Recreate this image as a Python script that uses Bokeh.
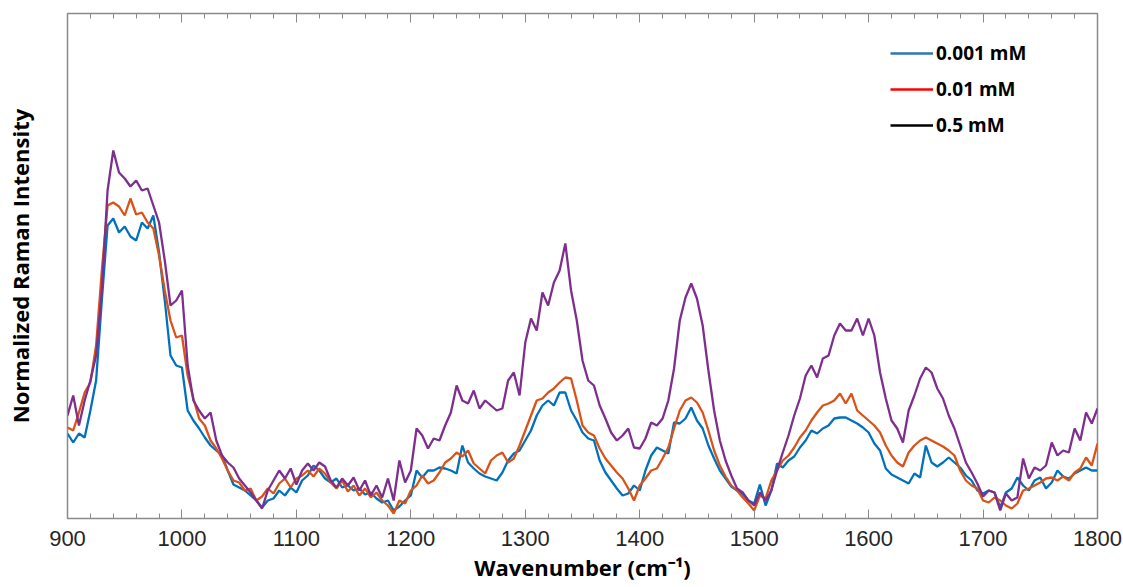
from bokeh.plotting import figure
from bokeh.models import Range1d, LinearAxis, Legend, LegendItem, FixedTicker
from bokeh.embed import file_html
from bokeh.resources import INLINE

wavenumber = list(range(900, 1805, 5))

conc_0001 = [
    0.85, 0.76, 0.85, 0.81, 1.08, 1.38, 2.18, 2.93, 3.00, 2.86,
    2.92, 2.82, 2.78, 2.96, 2.90, 3.03, 2.66, 2.18, 1.63, 1.53,
    1.51, 1.08, 0.98, 0.90, 0.81, 0.73, 0.68, 0.63, 0.48, 0.34,
    0.31, 0.28, 0.23, 0.18, 0.11, 0.18, 0.20, 0.28, 0.23, 0.31,
    0.26, 0.38, 0.43, 0.53, 0.48, 0.40, 0.36, 0.40, 0.31, 0.33,
    0.28, 0.30, 0.24, 0.26, 0.20, 0.16, 0.18, 0.08, 0.12, 0.18,
    0.23, 0.48, 0.41, 0.48, 0.48, 0.51, 0.50, 0.48, 0.45, 0.73,
    0.56, 0.50, 0.45, 0.42, 0.40, 0.38, 0.46, 0.58, 0.65, 0.68,
    0.78, 0.88, 1.03, 1.13, 1.18, 1.13, 1.26, 1.26, 1.08, 0.98,
    0.86, 0.80, 0.78, 0.58, 0.46, 0.38, 0.30, 0.23, 0.25, 0.33,
    0.28, 0.48, 0.63, 0.71, 0.68, 0.65, 0.96, 0.95, 1.00, 1.11,
    0.98, 0.90, 0.73, 0.60, 0.48, 0.40, 0.32, 0.28, 0.24, 0.18,
    0.15, 0.34, 0.13, 0.28, 0.55, 0.51, 0.58, 0.62, 0.71, 0.78,
    0.88, 0.85, 0.90, 0.93, 1.00, 1.01, 1.01, 0.98, 0.95, 0.91,
    0.86, 0.75, 0.68, 0.50, 0.44, 0.41, 0.38, 0.35, 0.45, 0.41,
    0.73, 0.56, 0.52, 0.56, 0.61, 0.56, 0.51, 0.43, 0.38, 0.28,
    0.25, 0.28, 0.26, 0.11, 0.26, 0.30, 0.41, 0.33, 0.28, 0.38,
    0.41, 0.30, 0.36, 0.48, 0.42, 0.40, 0.45, 0.48, 0.51, 0.48,
    0.48,
]

conc_001 = [
    0.91, 0.88, 1.06, 1.26, 1.36, 1.73, 2.48, 3.13, 3.16, 3.12,
    3.03, 3.20, 3.04, 3.06, 2.96, 2.90, 2.63, 2.28, 1.98, 1.81,
    1.83, 1.43, 1.20, 1.00, 0.93, 0.78, 0.70, 0.60, 0.48, 0.38,
    0.36, 0.28, 0.30, 0.18, 0.22, 0.30, 0.25, 0.35, 0.40, 0.31,
    0.40, 0.43, 0.48, 0.42, 0.50, 0.45, 0.36, 0.30, 0.38, 0.27,
    0.33, 0.23, 0.30, 0.21, 0.26, 0.18, 0.13, 0.05, 0.18, 0.15,
    0.28, 0.33, 0.43, 0.35, 0.38, 0.46, 0.56, 0.60, 0.66, 0.62,
    0.68, 0.55, 0.50, 0.45, 0.58, 0.63, 0.66, 0.56, 0.60, 0.73,
    0.88, 1.03, 1.18, 1.20, 1.26, 1.30, 1.36, 1.41, 1.40, 1.18,
    0.93, 0.86, 0.83, 0.70, 0.60, 0.53, 0.46, 0.40, 0.30, 0.18,
    0.33, 0.40, 0.48, 0.50, 0.60, 0.71, 0.90, 1.08, 1.18, 1.21,
    1.16, 1.06, 0.88, 0.68, 0.53, 0.42, 0.33, 0.28, 0.21, 0.15,
    0.08, 0.23, 0.20, 0.38, 0.48, 0.58, 0.63, 0.71, 0.81, 0.88,
    0.98, 1.06, 1.13, 1.15, 1.18, 1.25, 1.15, 1.25, 1.08, 1.03,
    0.98, 0.93, 0.86, 0.73, 0.63, 0.56, 0.52, 0.66, 0.73, 0.78,
    0.81, 0.78, 0.75, 0.72, 0.68, 0.63, 0.48, 0.38, 0.33, 0.30,
    0.18, 0.16, 0.21, 0.18, 0.13, 0.10, 0.15, 0.28, 0.30, 0.33,
    0.36, 0.40, 0.41, 0.38, 0.42, 0.38, 0.46, 0.50, 0.61, 0.53,
    0.75,
]

conc_05 = [
    1.03, 1.23, 0.93, 1.18, 1.38, 1.63, 2.28, 3.28, 3.68, 3.46,
    3.40, 3.32, 3.38, 3.28, 3.30, 3.13, 2.96, 2.58, 2.13, 2.18,
    2.28, 1.53, 1.18, 1.08, 1.00, 1.06, 0.78, 0.63, 0.56, 0.51,
    0.40, 0.33, 0.26, 0.18, 0.10, 0.28, 0.38, 0.48, 0.40, 0.50,
    0.34, 0.48, 0.55, 0.48, 0.56, 0.52, 0.38, 0.31, 0.40, 0.33,
    0.41, 0.28, 0.38, 0.23, 0.33, 0.21, 0.40, 0.18, 0.58, 0.36,
    0.48, 0.90, 0.83, 0.70, 0.80, 0.78, 0.93, 1.06, 1.33, 1.18,
    1.15, 1.28, 1.10, 1.18, 1.13, 1.08, 1.10, 1.38, 1.46, 1.23,
    1.76, 2.00, 1.88, 2.26, 2.13, 2.36, 2.48, 2.75, 2.28, 1.98,
    1.58, 1.38, 1.33, 1.13, 1.00, 0.86, 0.78, 0.83, 0.90, 0.71,
    0.70, 0.80, 0.96, 0.93, 1.00, 1.18, 1.50, 1.98, 2.21, 2.35,
    2.20, 1.93, 1.48, 1.08, 0.78, 0.58, 0.43, 0.30, 0.26, 0.18,
    0.13, 0.26, 0.18, 0.28, 0.48, 0.66, 0.83, 1.03, 1.20, 1.43,
    1.53, 1.41, 1.60, 1.63, 1.83, 1.95, 1.88, 1.88, 2.00, 1.83,
    2.00, 1.83, 1.46, 1.20, 0.98, 0.90, 0.76, 1.08, 1.23, 1.40,
    1.51, 1.46, 1.30, 1.20, 1.03, 0.90, 0.73, 0.56, 0.46, 0.35,
    0.22, 0.28, 0.26, 0.08, 0.25, 0.18, 0.21, 0.60, 0.40, 0.51,
    0.48, 0.53, 0.76, 0.63, 0.68, 0.66, 0.90, 0.78, 1.06, 0.95,
    1.10,
]

legend_labels = ["0.001 mM", "0.01 mM", "0.5 mM"]
x_ticks = [900, 1000, 1100, 1200, 1300, 1400, 1500, 1600, 1700, 1800]
x_minor = list(range(900, 1801, 20))

GREY = "#8a8a8a"
TICK_TXT = "#262626"

p = figure(width=1123, height=587, output_backend="svg", toolbar_location=None,
           x_range=Range1d(900, 1800), y_range=Range1d(0, 5.05),
           min_border_left=67, min_border_right=26, min_border_top=13,
           min_border_bottom=69, background_fill_color="white",
           border_fill_color="white")
p.grid.visible = False
p.outline_line_color = GREY
p.outline_line_width = 1.5

series_colors = ["#0072BD", "#D95319", "#7E2F8E"]
for ys, c in zip([conc_0001, conc_001, conc_05], series_colors):
    p.line(wavenumber, ys, line_color=c, line_width=2.3)

# bottom axis
xa = p.xaxis[0]
xa.ticker = FixedTicker(ticks=x_ticks, minor_ticks=x_minor)
xa.axis_line_color = GREY
xa.major_tick_line_color = GREY
xa.minor_tick_line_color = GREY
xa.major_tick_in = 9
xa.major_tick_out = 0
xa.minor_tick_in = 5
xa.minor_tick_out = 0
xa.major_label_standoff = 12
xa.major_label_text_font = "Liberation Sans"
xa.major_label_text_font_size = "22px"
xa.major_label_text_color = TICK_TXT
xa.axis_label = "Wavenumber (cm⁻¹)"
xa.axis_label_text_font = "Open Sans"
xa.axis_label_text_font_style = "bold"
xa.axis_label_text_font_size = "22px"
xa.axis_label_text_color = "black"
xa.axis_label_standoff = 3

# left axis (no ticks)
ya = p.yaxis[0]
ya.ticker = FixedTicker(ticks=[])
ya.axis_line_color = GREY
ya.major_tick_line_color = None
ya.minor_tick_line_color = None
ya.axis_label = "Normalized Raman Intensity"
ya.axis_label_text_font = "Open Sans"
ya.axis_label_text_font_style = "bold"
ya.axis_label_text_font_size = "22px"
ya.axis_label_text_color = "black"
ya.axis_label_standoff = 33

# top axis: tick marks only
top = LinearAxis(ticker=FixedTicker(ticks=x_ticks, minor_ticks=x_minor))
top.axis_line_color = GREY
top.major_tick_line_color = GREY
top.minor_tick_line_color = GREY
top.major_tick_in = 9
top.major_tick_out = 0
top.minor_tick_in = 5
top.minor_tick_out = 0
top.major_label_overrides = {t: "" for t in x_ticks}
top.major_label_text_font_size = "1px"
top.major_label_standoff = 0
p.add_layout(top, "above")

# legend (its swatch colours differ from the line colours in the original)
legend_colors = ["#2E75B6", "#FF0000", "#000000"]
items = []
for lab, c in zip(legend_labels, legend_colors):
    r = p.line([float("nan")], [float("nan")], line_color=c, line_width=2.5)
    items.append(LegendItem(label=lab, renderers=[r]))
leg = Legend(items=items, location=(823, 380), glyph_width=43, glyph_height=24,
             label_height=24, label_standoff=3, spacing=10, padding=0, margin=0,
             border_line_color=None, background_fill_alpha=0,
             label_text_font="Open Sans", label_text_font_style="bold",
             label_text_font_size="19px", label_text_color="black")
p.add_layout(leg)

open("out.html", "w").write(file_html(p, INLINE))
